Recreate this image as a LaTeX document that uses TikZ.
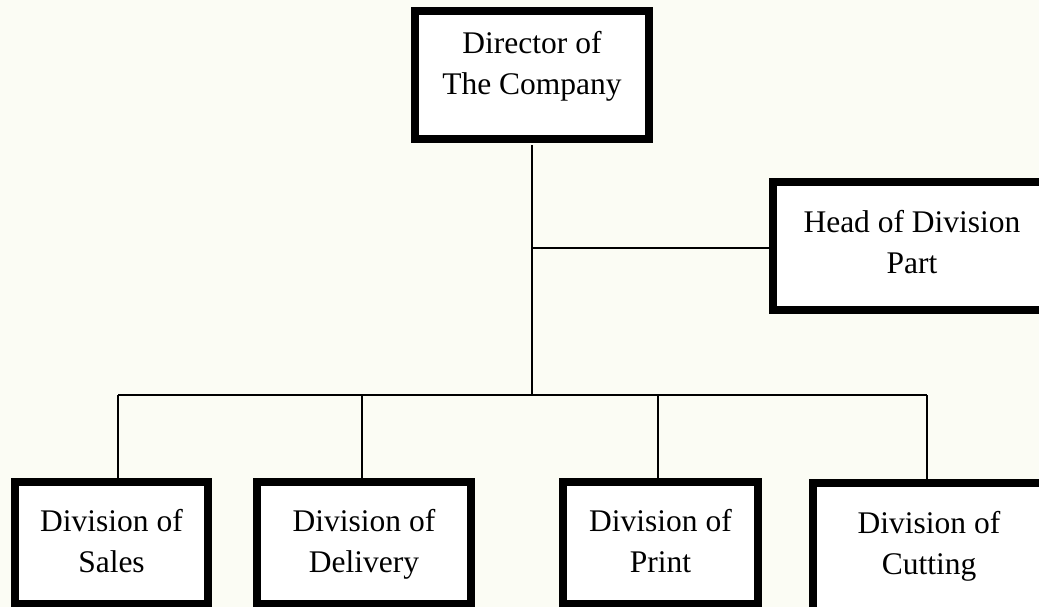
\documentclass[tikz,border=0pt]{standalone}
\usepackage{fontspec}
\setmainfont{Liberation Serif}
\usepackage{tikz}
\usetikzlibrary{positioning,calc}
\definecolor{backC}{RGB}{251,252,244}
\definecolor{boxW}{gray}{1}

\begin{document}
\begin{tikzpicture}[
	x=1pt,y=-1pt,
	unit/.style={
		draw,
		fill=boxW,
		line width=8pt,
		align=center,
		font=\fontsize{31.5}{41}\selectfont,
		text height=62pt,
		minimum height=128pt
	},
	link/.style={
		draw,
		line width=2pt
	}
	]
	\useasboundingbox (0,0) rectangle (1039,607);
	\clip (0,0) rectangle (1039,607);
	\fill[backC] (0,0) rectangle (1039,607);
	
	% top level
	\node[unit,minimum width=234pt,text depth=23pt] at (532,75)
	(director) {Director of\\The Company};
	\node[unit,minimum width=278pt,text depth=8pt] at (912,246)
	(head) {Head of Division\\Part};
	
	% divisions
	\begin{scope}[unit/.append style={minimum height=122pt,text depth=3pt}]
	\node[unit,minimum width=193pt] at (111.5,543)
	(sales) {Division of\\Sales};
	\node[unit,minimum width=214pt] at (364,543)
	(delivery) {Division of\\Delivery};
	\node[unit,minimum width=195pt] at (660.5,543)
	(print) {Division of\\Print};
	\node[unit,minimum width=232pt,minimum height=128pt,text depth=8pt] at (929,547)
	(cutting) {Division of\\Cutting};
	\end{scope}
	
	\coordinate (jhead) at (531.5,248);
	\coordinate (bus) at (531.5,395);
	\coordinate (bsales) at (118,395);
	\coordinate (bdelivery) at (362,395);
	\coordinate (bprint) at (658,395);
	\coordinate (bcutting) at (927,395);
	
	\path[link] ([yshift=-2pt]director.south -| bus) -- (bus);
	\path[link] (jhead) -- (jhead -| head.west);
	\path[link] (bsales) -- (bcutting);
	\path[link] (bsales) -- (bsales |- sales.north);
	\path[link] (bdelivery) -- (bdelivery |- delivery.north);
	\path[link] (bprint) -- (bprint |- print.north);
	\path[link] (bcutting) -- (bcutting |- cutting.north);
\end{tikzpicture}
\end{document}
